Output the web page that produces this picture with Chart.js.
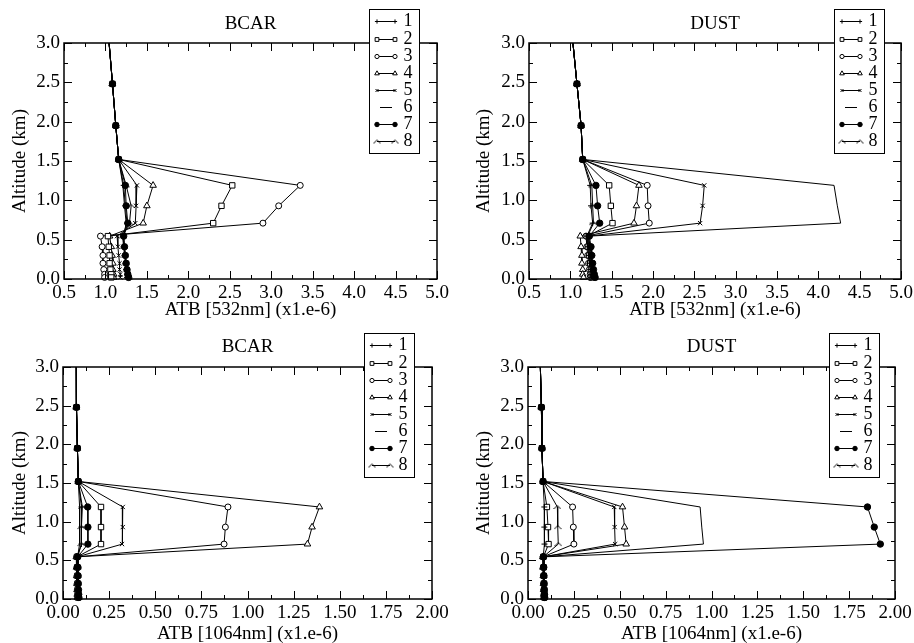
<!DOCTYPE html>
<html>
<head>
<meta charset="utf-8">
<script src="https://cdn.jsdelivr.net/npm/chart.js@4"></script>
<style>
  body { margin: 0; background: #fff; width: 914px; height: 643px; position: relative; overflow: hidden; }
  canvas { position: absolute; }
</style>
</head>
<body>
<canvas id="c1" width="457" height="321" style="left:0;top:0"></canvas>
<canvas id="c2" width="457" height="321" style="left:457px;top:0"></canvas>
<canvas id="c3" width="457" height="322" style="left:0;top:321px"></canvas>
<canvas id="c4" width="457" height="322" style="left:457px;top:321px"></canvas>
<script>
// altitude levels (km), shared by every profile
const ALT = [3.5, 2.48, 1.95, 1.52, 1.19, 0.93, 0.71, 0.545, 0.41, 0.30, 0.20, 0.12, 0.06, 0.02];
const SERIES = ['1', '2', '3', '4', '5', '6', '7', '8'];
const Y_TICKS = [0.0, 0.5, 1.0, 1.5, 2.0, 2.5, 3.0];
const X_TICKS_532 = [0.5, 1.0, 1.5, 2.0, 2.5, 3.0, 3.5, 4.0, 4.5, 5.0];
const X_TICKS_1064 = [0.00, 0.25, 0.50, 0.75, 1.00, 1.25, 1.50, 1.75, 2.00];

// values above the layer (same for every series), then layer + below for series 1..8
const bcar532Top = [1.005, 1.085, 1.125, 1.16];
const bcar532 = [
  [1.22, 1.24, 1.26, 1.21, 1.22, 1.23, 1.24, 1.25, 1.26, 1.26],
  [2.53, 2.40, 2.30, 1.03, 1.04, 1.05, 1.05, 1.06, 1.07, 1.07],
  [3.35, 3.09, 2.90, 0.94, 0.96, 0.97, 0.97, 0.98, 0.99, 0.99],
  [1.575, 1.50, 1.455, 1.05, 1.07, 1.08, 1.09, 1.09, 1.10, 1.10],
  [1.38, 1.37, 1.36, 1.14, 1.15, 1.16, 1.17, 1.17, 1.18, 1.18],
  [1.21, 1.23, 1.25, 1.22, 1.23, 1.24, 1.25, 1.26, 1.27, 1.27],
  [1.24, 1.25, 1.27, 1.22, 1.23, 1.24, 1.25, 1.26, 1.27, 1.28],
  [1.25, 1.31, 1.29, 1.21, 1.22, 1.24, 1.25, 1.26, 1.27, 1.28]
];

const dust532Top = [0.985, 1.08, 1.13, 1.15];
const dust532 = [
  [1.24, 1.25, 1.27, 1.20, 1.21, 1.22, 1.23, 1.24, 1.25, 1.25],
  [1.47, 1.49, 1.51, 1.21, 1.22, 1.23, 1.24, 1.25, 1.26, 1.26],
  [1.93, 1.94, 1.955, 1.19, 1.20, 1.21, 1.22, 1.23, 1.24, 1.24],
  [1.83, 1.80, 1.77, 1.12, 1.13, 1.14, 1.14, 1.15, 1.15, 1.16],
  [2.62, 2.60, 2.57, 1.22, 1.23, 1.24, 1.25, 1.26, 1.27, 1.27],
  [4.19, 4.23, 4.27, 1.22, 1.24, 1.25, 1.26, 1.27, 1.28, 1.28],
  [1.31, 1.33, 1.355, 1.23, 1.25, 1.26, 1.27, 1.28, 1.29, 1.30],
  [1.26, 1.27, 1.28, 1.21, 1.22, 1.23, 1.24, 1.25, 1.26, 1.27]
];

const bcar1064Top = [0.072, 0.073, 0.078, 0.083];
const bcar1064 = [
  [0.100, 0.100, 0.100, 0.078, 0.079, 0.080, 0.081, 0.082, 0.083, 0.083],
  [0.206, 0.206, 0.206, 0.076, 0.077, 0.078, 0.079, 0.080, 0.081, 0.081],
  [0.894, 0.880, 0.873, 0.074, 0.075, 0.076, 0.077, 0.078, 0.079, 0.080],
  [1.390, 1.350, 1.325, 0.072, 0.073, 0.074, 0.075, 0.076, 0.077, 0.078],
  [0.324, 0.324, 0.320, 0.077, 0.078, 0.079, 0.080, 0.081, 0.082, 0.082],
  [0.090, 0.090, 0.090, 0.079, 0.080, 0.081, 0.082, 0.083, 0.084, 0.084],
  [0.134, 0.135, 0.135, 0.080, 0.081, 0.082, 0.083, 0.084, 0.085, 0.086],
  [0.105, 0.100, 0.100, 0.078, 0.080, 0.081, 0.082, 0.083, 0.084, 0.085]
];

const dust1064Top = [0.062, 0.073, 0.076, 0.082];
const dust1064 = [
  [0.089, 0.089, 0.090, 0.083, 0.084, 0.085, 0.086, 0.087, 0.088, 0.088],
  [0.103, 0.109, 0.112, 0.084, 0.085, 0.086, 0.087, 0.088, 0.089, 0.089],
  [0.243, 0.247, 0.250, 0.082, 0.083, 0.084, 0.085, 0.086, 0.087, 0.087],
  [0.515, 0.526, 0.535, 0.081, 0.082, 0.083, 0.084, 0.085, 0.086, 0.086],
  [0.470, 0.472, 0.475, 0.082, 0.083, 0.084, 0.085, 0.086, 0.087, 0.088],
  [0.938, 0.947, 0.956, 0.083, 0.085, 0.086, 0.087, 0.088, 0.089, 0.090],
  [1.850, 1.887, 1.920, 0.084, 0.086, 0.087, 0.088, 0.089, 0.090, 0.091],
  [0.160, 0.162, 0.165, 0.083, 0.084, 0.085, 0.086, 0.087, 0.088, 0.089]
];

const FONT = '"Liberation Serif", "DejaVu Serif", serif';

// small "^" marker for series 8
const chevron = document.createElement('canvas');
chevron.width = 8; chevron.height = 6;
const cc = chevron.getContext('2d');
cc.strokeStyle = '#000'; cc.lineWidth = 1;
cc.beginPath(); cc.moveTo(0.5, 5); cc.lineTo(4, 1.5); cc.lineTo(7.5, 5); cc.stroke();

const MARKS = [
  { style: 'cross', r: 3, fill: '#000' },
  { style: 'rect', r: 3.8, fill: '#fff' },
  { style: 'circle', r: 3, fill: '#fff' },
  { style: 'triangle', r: 3.8, fill: '#fff' },
  { style: 'crossRot', r: 3, fill: '#000' },
  { style: 'circle', r: 0, fill: '#000' },
  { style: 'circle', r: 3.2, fill: '#000' },
  { style: chevron, r: 3, fill: '#000' }
];

function profile(top, vals) {
  return ALT.map((a, i) => ({ x: i < top.length ? top[i] : vals[i - top.length], y: a }));
}

// frame with inward ticks, tick labels, axis titles, panel title and boxed legend
const framePlugin = {
  id: 'frame',
  afterDatasetsDraw(chart, args, o) {
    const { ctx, chartArea: a, scales: { x, y } } = chart;
    ctx.save();
    ctx.strokeStyle = '#000';
    ctx.lineWidth = 1;
    const seg = (x1, y1, x2, y2) => { ctx.beginPath(); ctx.moveTo(x1, y1); ctx.lineTo(x2, y2); ctx.stroke(); };
    const isMajor = (v, step) => Math.abs(v / step - Math.round(v / step)) < 1e-6;
    for (let v = x.min; v <= x.max + 1e-9; v += o.xMinor) {
      const px = Math.round(x.getPixelForValue(v)) + 0.5;
      const len = isMajor(v, o.xMajor) ? 8 : 4;
      seg(px, a.bottom, px, a.bottom - len);
      seg(px, a.top, px, a.top + len);
    }
    for (let v = y.min; v <= y.max + 1e-9; v += 0.25) {
      const py = Math.round(y.getPixelForValue(v)) + 0.5;
      const len = isMajor(v, 0.5) ? 8 : 4;
      seg(a.left, py, a.left + len, py);
      seg(a.right, py, a.right - len, py);
    }
    ctx.lineWidth = 1.5;
    ctx.strokeRect(a.left, a.top, a.right - a.left, a.bottom - a.top);

    ctx.fillStyle = '#000';
    ctx.font = '19px ' + FONT;
    ctx.textBaseline = 'middle';
    ctx.textAlign = 'right';
    Y_TICKS.forEach(v => ctx.fillText(v.toFixed(1), a.left - 4, y.getPixelForValue(v)));
    ctx.textAlign = 'center';
    o.xTicks.forEach(v => ctx.fillText(v.toFixed(o.dec), x.getPixelForValue(v), a.bottom + 13.7));
    ctx.fillText(o.xTitle, (a.left + a.right) / 2, o.xTitleY);
    ctx.fillText(o.title, (a.left + a.right) / 2, o.titleY);
    ctx.save();
    ctx.translate(o.yTitleX, (a.top + a.bottom) / 2);
    ctx.rotate(-Math.PI / 2);
    ctx.fillText('Altitude (km)', 0, 0);
    ctx.restore();

    // legend
    const L = o.legend;
    ctx.fillStyle = '#fff';
    ctx.fillRect(L.x, L.y, 50, 144);
    ctx.lineWidth = 1;
    ctx.strokeRect(L.x + 0.5, L.y + 0.5, 50, 144);
    chart.data.datasets.forEach((ds, i) => {
      const ly = Math.round(L.y + 12.4 + i * 17.14) + 0.5;
      const m = MARKS[i];
      const x1 = L.x + (m.r ? 8 : 11), x2 = L.x + (m.r ? 26 : 23);
      ctx.strokeStyle = '#000';
      ctx.lineWidth = 1;
      seg(x1, ly, x2, ly);
      if (m.r) {
        ctx.fillStyle = m.fill;
        const opt = { pointStyle: m.style, radius: m.r * 0.7, rotation: 0, borderWidth: 1 };
        Chart.helpers.drawPoint(ctx, opt, x1, ly);
        Chart.helpers.drawPoint(ctx, opt, x2, ly);
      }
      ctx.fillStyle = '#000';
      ctx.font = '18px ' + FONT;
      ctx.fillText(SERIES[i], L.x + 39, ly);
    });
    ctx.restore();
  }
};

function panel(id, cfg) {
  const datasets = cfg.values.map((vals, i) => ({
    label: SERIES[i],
    data: profile(cfg.top, vals),
    showLine: true,
    borderColor: '#000',
    borderWidth: 1,
    tension: 0,
    order: i === 6 ? -1 : 0,
    pointStyle: MARKS[i].style,
    pointRadius: MARKS[i].r,
    pointBackgroundColor: MARKS[i].fill,
    pointBorderColor: '#000',
    pointBorderWidth: 1,
    clip: { left: 5, top: 0, right: 5, bottom: 5 }
  }));
  new Chart(document.getElementById(id), {
    type: 'scatter',
    data: { datasets },
    options: {
      responsive: false,
      animation: false,
      events: [],
      layout: { autoPadding: false, padding: { left: 0, top: cfg.T, right: cfg.R, bottom: 0 } },
      scales: {
        x: {
          type: 'linear',
          min: cfg.xTicks[0],
          max: cfg.xTicks[cfg.xTicks.length - 1],
          afterFit: s => { s.height = cfg.H; },
          grid: { display: false, drawTicks: false },
          border: { display: false },
          ticks: { display: false }
        },
        y: {
          type: 'linear',
          min: 0,
          max: 3,
          afterFit: s => { s.width = cfg.W; },
          grid: { display: false, drawTicks: false },
          border: { display: false },
          ticks: { display: false }
        }
      },
      plugins: {
        legend: { display: false },
        tooltip: { enabled: false },
        title: { display: false },
        frame: {
          title: cfg.title, titleY: cfg.titleY, legend: cfg.legend, xMinor: cfg.xMinor, xMajor: cfg.xMajor,
          xTicks: cfg.xTicks, dec: cfg.dec, xTitle: cfg.xTitle, xTitleY: cfg.xTitleY, yTitleX: cfg.yTitleX
        }
      }
    },
    plugins: [framePlugin]
  });
}

panel('c1', { title: 'BCAR', top: bcar532Top, values: bcar532, xTicks: X_TICKS_532, dec: 1, xMinor: 0.25, xMajor: 0.5,
  xTitle: 'ATB [532nm] (x1.e-6)', W: 64, R: 20, T: 43, H: 42, xTitleY: 310, yTitleX: 20, titleY: 24.5, legend: { x: 369, y: 9 } });
panel('c2', { title: 'DUST', top: dust532Top, values: dust532, xTicks: X_TICKS_532, dec: 1, xMinor: 0.25, xMajor: 0.5,
  xTitle: 'ATB [532nm] (x1.e-6)', W: 72, R: 13, T: 43, H: 42, xTitleY: 310, yTitleX: 26.7, titleY: 24.5, legend: { x: 377, y: 9 } });
panel('c3', { title: 'BCAR', top: bcar1064Top, values: bcar1064, xTicks: X_TICKS_1064, dec: 2, xMinor: 0.125, xMajor: 0.25,
  xTitle: 'ATB [1064nm] (x1.e-6)', W: 63, R: 25, T: 46, H: 44, xTitleY: 313, yTitleX: 20, titleY: 26, legend: { x: 364, y: 12 } });
panel('c4', { title: 'DUST', top: dust1064Top, values: dust1064, xTicks: X_TICKS_1064, dec: 2, xMinor: 0.125, xMajor: 0.25,
  xTitle: 'ATB [1064nm] (x1.e-6)', W: 71, R: 19, T: 46, H: 44, xTitleY: 313, yTitleX: 26.7, titleY: 26, legend: { x: 372, y: 12 } });
</script>
</body>
</html>
